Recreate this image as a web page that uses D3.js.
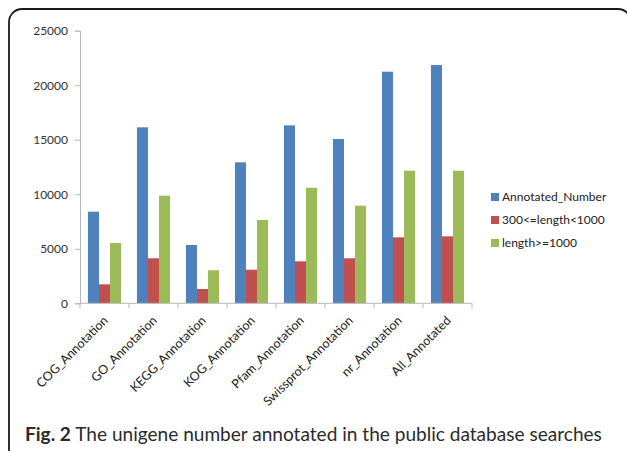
<!DOCTYPE html>
<html>
<head>
<meta charset="utf-8">
<script src="https://cdn.jsdelivr.net/npm/d3@7"></script>
<style>
  html, body { margin: 0; padding: 0; background: #fff; }
  svg { display: block; }
</style>
</head>
<body>
<script>
// Annotation databases and unigene counts per length class
const categories = ["COG_Annotation", "GO_Annotation", "KEGG_Annotation", "KOG_Annotation",
  "Pfam_Annotation", "Swissprot_Annotation", "nr_Annotation", "All_Annotated"];
const seriesNames = ["Annotated_Number", "300<=length<1000", "length>=1000"];
const annotatedNumber = [8400, 16140, 5350, 12930, 16320, 15070, 21240, 21850];
const shortLength = [1740, 4130, 1310, 3080, 3850, 4130, 6050, 6140];
const longLength = [5530, 9870, 3030, 7640, 10600, 8950, 12160, 12160];
const yTicks = [0, 5000, 10000, 15000, 20000, 25000];
const colors = ["#4F81BD", "#C0504D", "#9BBB59"];

const W = 627, H = 451;
const svg = d3.select("body").append("svg").attr("width", W).attr("height", H);

// Rounded panel frame
svg.append("rect")
  .attr("x", 9).attr("y", 9).attr("width", 622).attr("height", 460)
  .attr("rx", 13).attr("ry", 13)
  .attr("fill", "none").attr("stroke", "#1a1a1a").attr("stroke-width", 1.8);

const plot = { left: 80, right: 472, top: 30.7, bottom: 303.3 };
const font = "Lato, 'Liberation Sans', sans-serif";

const x0 = d3.scaleBand().domain(categories).range([plot.left, plot.right]).paddingInner(0).paddingOuter(0);
const x1 = d3.scaleBand().domain(seriesNames).range([0, x0.bandwidth()]).paddingInner(0).paddingOuter(0.72);
const y = d3.scaleLinear().domain([0, 25000]).range([plot.bottom, plot.top]);

const rows = categories.map((c, i) => ({
  cat: c,
  vals: [annotatedNumber[i], shortLength[i], longLength[i]]
}));

// Bars
const groups = svg.append("g").selectAll("g").data(rows).join("g")
  .attr("transform", d => `translate(${x0(d.cat)},0)`);
groups.selectAll("rect").data(d => d.vals.map((v, k) => ({ k, v }))).join("rect")
  .attr("x", d => x1(seriesNames[d.k]))
  .attr("y", d => y(d.v))
  .attr("width", x1.bandwidth())
  .attr("height", d => y(0) - y(d.v))
  .attr("fill", d => colors[d.k]);

// Y axis
const yAxis = svg.append("g").attr("transform", `translate(${plot.left},0)`)
  .call(d3.axisLeft(y).tickValues(yTicks).tickSize(5).tickPadding(7).tickFormat(d3.format("d")));
yAxis.select(".domain").attr("stroke", "#b8b8b8");
yAxis.selectAll(".tick line").attr("stroke", "#b8b8b8");
yAxis.selectAll("text").attr("fill", "#333").style("font-family", font).style("font-size", "12px");

// X axis: ticks at category boundaries
const bounds = categories.map(c => x0(c)).concat([plot.right]);
const xAxis = svg.append("g");
xAxis.append("line")
  .attr("x1", plot.left).attr("x2", plot.right)
  .attr("y1", y(0)).attr("y2", y(0)).attr("stroke", "#b8b8b8");
xAxis.selectAll("line.tk").data(bounds).join("line").attr("class", "tk")
  .attr("x1", d => d).attr("x2", d => d)
  .attr("y1", y(0)).attr("y2", y(0) + 5).attr("stroke", "#b8b8b8");
xAxis.selectAll("text").data(categories).join("text")
  .attr("transform", d => `translate(${x0(d) + x0.bandwidth() / 2 + 1},${y(0) + 15}) rotate(-45)`)
  .attr("text-anchor", "end")
  .attr("dy", "0.35em")
  .attr("fill", "#222")
  .style("font-family", font).style("font-size", "12.5px")
  .text(d => d);

// Legend
const legend = svg.append("g").attr("transform", "translate(491,197)");
seriesNames.forEach((n, i) => {
  const g = legend.append("g").attr("transform", `translate(0,${i * 23})`);
  g.append("rect").attr("x", 0).attr("y", -4).attr("width", 8).attr("height", 8).attr("fill", colors[i]);
  g.append("text").attr("x", 11).attr("y", 0).attr("dy", "0.35em")
    .attr("fill", "#222").style("font-family", font).style("font-size", "12px").text(n);
});

// Caption, sized to span the panel width
const capLeft = 25, capWidth = 577;
let capSize = 20;
const cap = svg.append("text").attr("x", capLeft).attr("y", 441)
  .style("font-family", "Lato, 'Open Sans', sans-serif").style("font-size", capSize + "px").attr("fill", "#2b2b2b");
cap.append("tspan").style("font-weight", "bold").text("Fig. 2");
cap.append("tspan").text(" The unigene number annotated in the public database searches");
const measured = cap.node().getComputedTextLength();
if (measured > 0) {
  capSize = capSize * capWidth / measured;
  cap.style("font-size", capSize.toFixed(2) + "px");
}
</script>
</body>
</html>
